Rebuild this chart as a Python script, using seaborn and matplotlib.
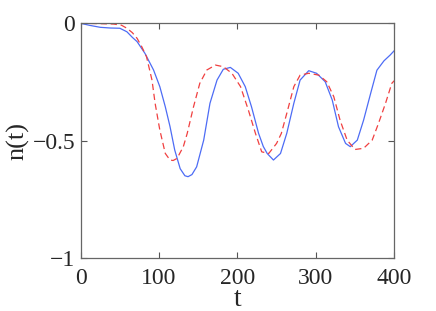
import numpy as np
import pandas as pd
import matplotlib
matplotlib.use('Agg')
import matplotlib.pyplot as plt
import seaborn as sns

# values
t_solid = [0, 12, 25, 38, 50, 59, 66, 72, 82, 93, 101, 108, 114, 120, 127, 133, 137,
           142, 148, 157, 165, 174, 182, 191, 201, 210, 218, 227, 233, 238, 246, 255,
           263, 272, 280, 291, 301, 312, 321, 329, 338, 344, 353, 361, 370, 378, 387,
           395, 400]
n_solid = [0.0, -0.009, -0.017, -0.02, -0.021, -0.036, -0.06, -0.078, -0.128, -0.199,
           -0.27, -0.356, -0.44, -0.54, -0.62, -0.65, -0.654, -0.645, -0.612, -0.498,
           -0.341, -0.242, -0.196, -0.188, -0.213, -0.27, -0.356, -0.469, -0.525, -0.555,
           -0.583, -0.555, -0.469, -0.341, -0.242, -0.202, -0.213, -0.249, -0.327, -0.441,
           -0.512, -0.526, -0.498, -0.413, -0.299, -0.2, -0.16, -0.135, -0.117]

t_dash = [0, 20, 42, 52, 59, 66, 72, 78, 84, 91, 95, 101, 108, 114, 118, 123, 131, 136,
          144, 152, 161, 172, 182, 193, 204, 214, 223, 231, 240, 250, 256, 263, 272, 280,
          291, 304, 314, 323, 331, 340, 350, 361, 372, 380, 389, 397, 400]
n_dash = [0.0, -0.001, -0.003, -0.008, -0.021, -0.04, -0.064, -0.1, -0.142, -0.242,
          -0.341, -0.455, -0.555, -0.583, -0.585, -0.576, -0.526, -0.469, -0.356, -0.256,
          -0.199, -0.178, -0.185, -0.213, -0.27, -0.37, -0.469, -0.548, -0.555, -0.512,
          -0.47, -0.384, -0.27, -0.221, -0.213, -0.221, -0.249, -0.313, -0.413, -0.498,
          -0.538, -0.533, -0.498, -0.427, -0.341, -0.256, -0.245]

sns.set_style("ticks")
plt.rcParams['font.family'] = 'serif'
plt.rcParams['font.serif'] = ['Liberation Serif', 'DejaVu Serif']

fig = plt.figure(figsize=(4.36, 3.11), dpi=100)
ax = fig.add_axes([0.185, 0.171, 0.719, 0.754])

solid = pd.DataFrame({"t": t_solid, "n": n_solid})
dash = pd.DataFrame({"t": t_dash, "n": n_dash})
sns.lineplot(data=solid, x="t", y="n", ax=ax, color="#4d6cf5", linewidth=0.9)
sns.lineplot(data=dash, x="t", y="n", ax=ax, color="#f04040", linewidth=0.9,
             linestyle=(0, (5, 3)))

ax.set_xlim(0, 400)
ax.set_ylim(-1, 0)
ax.set_xticks([0, 100, 200, 300, 400])
ax.set_yticks([-1, -0.5, 0])
ax.set_yticklabels(["\u22121", "\u22120.5", "0"])
ax.tick_params(direction="in", length=4, width=0.8, top=True, right=True,
               labelsize=17, color="#555555")
ax.tick_params(axis="x", pad=7)
ax.tick_params(axis="y", pad=4)
for s in ax.spines.values():
    s.set_color("#666666")
    s.set_linewidth(0.9)
ax.set_xlabel("t", fontsize=20, labelpad=-1)
ax.set_ylabel("n(t)", fontsize=19, labelpad=2)

fig.savefig("out.png", dpi=100)
